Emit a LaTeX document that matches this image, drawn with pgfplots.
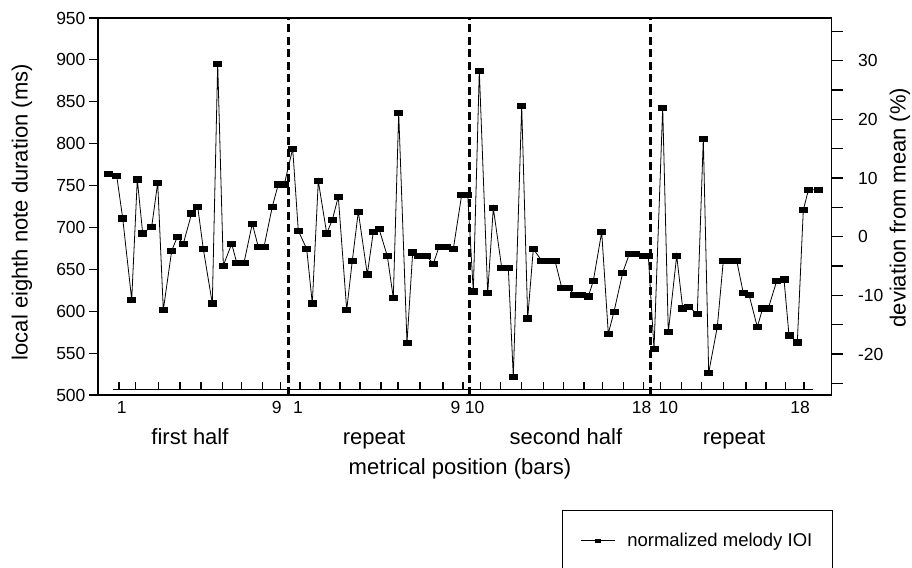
\documentclass[border=0pt]{standalone}
\usepackage{fontspec}
\setmainfont{Liberation Sans}
\usepackage{pgfplots}
\pgfplotsset{compat=1.18}

\newcommand{\tickfont}{\fontsize{17.5}{20}\selectfont}
\newcommand{\labfont}{\fontsize{22}{26}\selectfont}

\begin{document}
\begin{tikzpicture}[x=1pt,y=1pt]
\begin{axis}[
  scale only axis,
  width=733.5pt, height=377pt,
  xmin=98, xmax=831.5,
  ymin=500, ymax=950,
  ytick={500,550,...,950},
  ytick pos=left,
  tick align=outside,
  major tick length=9pt,
  xtick={121.7,276.7,298,455.5,474.5,641.7,668.3,800},
  xticklabels={1,9,1,9,10,18,10,18},
  xtick style={draw=none},
  xticklabel style={font=\tickfont, yshift=6pt},
  yticklabel style={font=\tickfont},
  /pgf/number format/assume math mode=true,
  axis line style={line width=1.2pt},
  ytick style={line width=1.2pt, black},
  ylabel={local eighth note duration (ms)},
  ylabel style={font=\labfont, at={(axis description cs:-0.1036,0.485)}, anchor=center},
  xlabel={metrical position (bars)},
  xlabel style={font=\labfont, at={(axis description cs:0.4935,-0.196)}, anchor=center},
  clip=false,
  legend style={at={(axis description cs:0.6326,-0.305)}, anchor=north west,
    draw=black, line width=0.9pt, inner xsep=18pt, inner ysep=21pt,
    /tikz/column sep=10pt,
    font=\fontsize{18.5}{22}\selectfont},
  legend cell align=left,
  legend image code/.code={
    \draw[#1, mark size=1.6pt, mark repeat=2, mark phase=2]
      plot coordinates {(0pt,0pt) (17pt,0pt) (34pt,0pt)};},
]
\addplot[black, line width=0.8pt, mark=square*, mark size=2.7pt,
  mark options={xscale=1.5, fill=black, solid}] coordinates {
  (108.3,763.8)(116.7,761.8)(122.7,710.9)(131.7,613.8)(137.3,757.4)(142.7,693.0)
  (151.7,700.9)(157.7,753.4)(163.3,601.5)(171.7,672.3)(177.3,688.6)(183.3,680.6)
  (191.7,716.9)(197.7,724.8)(203.3,674.3)(212.3,609.4)(217.7,895.5)(223.3,654.4)
  (231.7,680.6)(236.7,657.9)(244.0,657.9)(252.3,704.5)(258.3,676.7)(264.0,676.7)
  (272.3,724.8)(278.3,751.5)(284.3,751.5)
  (292.7,794.0)(298.3,696.1)(306.7,674.3)(312.3,609.4)(318.3,755.4)(326.7,693.0)
  (332.3,708.9)(338.3,736.7)(346.7,601.5)(352.3,660.3)(358.3,718.8)(367.3,644.0)
  (373.3,694.6)(379.0,698.5)(387.3,665.9)(393.3,616.1)(398.7,836.6)(407.0,562.5)
  (412.7,670.3)(418.3,665.9)(426.7,665.9)(433.3,656.7)(439.0,676.7)(446.7,676.7)
  (453.3,674.3)(461.7,739.1)(467.7,739.1)
  (473.3,623.8)(479.3,887.1)(487.7,621.7)(493.3,723.2)(501.7,652.0)(508.3,652.0)
  (513.3,521.9)(521.7,845.0)(527.7,591.5)(533.3,674.3)(541.7,660.3)(548.3,660.3)
  (555.0,660.3)(561.7,628.1)(568.3,628.1)(574.3,619.7)(581.7,619.7)(588.3,617.8)
  (593.3,636.1)(601.7,694.6)(608.3,573.2)(614.0,599.5)(622.7,646.0)(629.3,668.3)
  (635.0,668.3)(643.3,666.3)(648.3,666.3)
  (654.0,554.9)(662.7,843.0)(668.3,575.2)(676.7,666.3)(682.7,603.4)(688.3,605.4)
  (697.3,597.0)(703.3,806.0)(708.7,526.7)(717.3,581.2)(723.3,660.3)(730.0,660.3)
  (736.7,660.3)(743.3,621.7)(749.0,619.7)(757.3,581.2)(762.7,603.4)(768.3,603.4)
  (776.7,636.1)(784.0,638.1)(789.0,571.2)(797.3,562.9)(803.3,720.8)(808.5,745.1)
  (818.5,745.1)
};
\addlegendentry{normalized melody IOI}
% section boundaries
\addplot[forget plot, black, line width=2.7pt, dash pattern=on 8pt off 4.5pt]
  coordinates {(288.5,500)(288.5,950)};
\addplot[forget plot, black, line width=2.7pt, dash pattern=on 8pt off 4.5pt]
  coordinates {(469.5,500)(469.5,950)};
\addplot[forget plot, black, line width=2.7pt, dash pattern=on 8pt off 4.5pt]
  coordinates {(650.5,500)(650.5,950)};
% bar line rug
\addplot[forget plot, black, line width=1.1pt] coordinates {(113,506.6)(813,506.6)};
\addplot[forget plot, only marks, mark=|, mark size=3.75pt,
  mark options={line width=1.1pt, black}] coordinates {
  (119,511)(135.7,511)(158.3,511)(180,511)(201,511)(222.3,511)(241.7,511)(262.3,511)(280.7,511)
  (300,511)(320,511)(340,511)(360,511)(381,511)(398,511)(420,511)(443,511)(463,511)
  (480.7,511)(500.7,511)(521.7,511)(543.3,511)(563.3,511)(584,511)(602.7,511)(623.3,511)(643.3,511)
  (660.7,511)(681.7,511)(701.7,511)(723.3,511)(746,511)(766,511)(785.7,511)(804,511)
};
\node[font=\labfont, anchor=base] at (axis description cs:0.1254,-0.130) {first half};
\node[font=\labfont, anchor=base] at (axis description cs:0.3763,-0.130) {repeat};
\node[font=\labfont, anchor=base] at (axis description cs:0.6380,-0.130) {second half};
\node[font=\labfont, anchor=base] at (axis description cs:0.8670,-0.130) {repeat};
\end{axis}
\begin{axis}[
  scale only axis,
  width=733.5pt, height=377pt,
  xmin=98, xmax=831.5,
  ymin=-26.97, ymax=37.26,
  axis x line=none,
  axis y line*=right,
  ytick={-20,-10,...,30},
  minor ytick={-25,-15,...,35},
  tick align=outside,
  major tick length=11pt,
  minor tick length=11pt,
  axis line style={line width=1.2pt, -},
  ytick style={line width=1.2pt, black},
  minor tick style={line width=1.2pt, black},
  yticklabel style={font=\tickfont, anchor=west, xshift=12pt},
  /pgf/number format/assume math mode=true,
  ylabel={deviation from mean (\%)},
  ylabel style={font=\labfont, at={(axis description cs:1.0934,0.497)}, anchor=center},
]
\addplot[draw=none, forget plot] coordinates {(400,0)};
\end{axis}
\pgfresetboundingbox
\path[use as bounding box] (-98,-172) rectangle (814,395);
\end{tikzpicture}
\end{document}
